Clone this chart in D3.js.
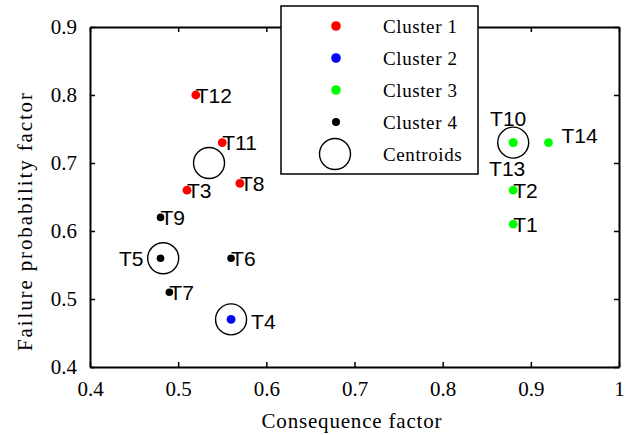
<!DOCTYPE html>
<html>
<head>
<meta charset="utf-8">
<script src="https://cdn.jsdelivr.net/npm/d3@7"></script>
<style>
  body { margin: 0; background: #fff; }
  svg { display: block; }
</style>
</head>
<body>
<svg id="chart"></svg>
<script>
// data
const names = ["T1", "T2", "T3", "T4", "T5", "T6", "T7", "T8", "T9", "T10", "T11", "T12", "T13", "T14"];
const consequence = [0.88, 0.88, 0.51, 0.56, 0.48, 0.56, 0.49, 0.57, 0.48, 0.88, 0.55, 0.52, 0.88, 0.92];
const probability = [0.61, 0.66, 0.66, 0.47, 0.56, 0.56, 0.51, 0.67, 0.62, 0.73, 0.73, 0.80, 0.73, 0.73];
const clusterOf = [3, 3, 1, 2, 4, 4, 4, 1, 4, 3, 1, 1, 3, 3];

const centroidX = [0.535, 0.56, 0.88, 0.483];
const centroidY = [0.70, 0.47, 0.73, 0.56];

const clusterNames = ["Cluster 1", "Cluster 2", "Cluster 3", "Cluster 4"];
const clusterColors = ["#ff0000", "#0000ff", "#00ff00", "#000000"];

const xTicks = [0.4, 0.5, 0.6, 0.7, 0.8, 0.9, 1.0];
const yTicks = [0.4, 0.5, 0.6, 0.7, 0.8, 0.9];

// where each label sits relative to its point (pixels)
const labelPlace = {
    T4: { dx: 20, dy: 2, anchor: "start" },
    T5: { dx: -17, dy: 0, anchor: "end" },
    T10: { dx: -5, dy: -24, anchor: "middle" },
    T13: { dx: -6, dy: 26, anchor: "middle" },
    T14: { dx: 13, dy: -7, anchor: "start" }
};

const width = 629, height = 435;
const margin = { top: 27, right: 10, bottom: 68, left: 90 };
const serif = "'Liberation Serif', 'Times New Roman', serif";
const sans = "'Liberation Sans', Arial, sans-serif";

const svg = d3.select("#chart")
    .attr("width", width)
    .attr("height", height);

const innerW = width - margin.left - margin.right;
const innerH = height - margin.top - margin.bottom;

const x = d3.scaleLinear().domain([0.4, 1.0]).range([0, innerW]);
const y = d3.scaleLinear().domain([0.4, 0.9]).range([innerH, 0]);

const g = svg.append("g")
    .attr("transform", `translate(${margin.left},${margin.top})`);

const fmt = d3.format("~g");

// axes, ticks pointing inwards, MATLAB box style
const xAxis = d3.axisBottom(x).tickValues(xTicks).tickFormat(fmt).tickSizeInner(-5).tickSizeOuter(0).tickPadding(14);
const yAxis = d3.axisLeft(y).tickValues(yTicks).tickFormat(fmt).tickSizeInner(-5).tickSizeOuter(0).tickPadding(13);
const xTop = d3.axisTop(x).tickValues(xTicks).tickFormat("").tickSizeInner(-5).tickSizeOuter(0);
const yRight = d3.axisRight(y).tickValues(yTicks).tickFormat("").tickSizeInner(-5).tickSizeOuter(0);

g.append("g").attr("class", "axis").attr("transform", `translate(0,${innerH})`).call(xAxis);
g.append("g").attr("class", "axis").call(yAxis);
g.append("g").attr("class", "axis").call(xTop);
g.append("g").attr("class", "axis").attr("transform", `translate(${innerW},0)`).call(yRight);

g.selectAll(".axis path").attr("stroke", "#000").attr("stroke-width", 2);
g.selectAll(".axis line").attr("stroke", "#000").attr("stroke-width", 1.5);
g.selectAll(".axis text")
    .attr("fill", "#000")
    .style("font-family", serif)
    .style("font-size", "21px");

// axis titles
svg.append("text")
    .attr("x", margin.left + innerW / 2 - 3)
    .attr("y", 428)
    .attr("text-anchor", "middle")
    .attr("textLength", 180)
    .attr("lengthAdjust", "spacing")
    .style("font-family", serif)
    .style("font-size", "21px")
    .text("Consequence factor");

svg.append("text")
    .attr("transform", `translate(32,${222}) rotate(-90)`)
    .attr("text-anchor", "middle")
    .attr("textLength", 258)
    .attr("lengthAdjust", "spacing")
    .style("font-family", serif)
    .style("font-size", "21px")
    .text("Failure probability factor");

// data points
const pts = names.map((n, i) => ({
    name: n,
    cx: consequence[i],
    cy: probability[i],
    c: clusterOf[i]
}));

g.selectAll(".pt")
    .data(pts)
    .join("circle")
    .attr("class", "pt")
    .attr("cx", d => x(d.cx))
    .attr("cy", d => y(d.cy))
    .attr("r", d => d.c === 4 ? 3.8 : 4.4)
    .attr("fill", d => clusterColors[d.c - 1]);

// centroids
g.selectAll(".centroid")
    .data(centroidX.map((v, i) => [v, centroidY[i]]))
    .join("circle")
    .attr("class", "centroid")
    .attr("cx", d => x(d[0]))
    .attr("cy", d => y(d[1]))
    .attr("r", 15.5)
    .attr("fill", "none")
    .attr("stroke", "#000")
    .attr("stroke-width", 1.4);

// point labels
g.selectAll(".lbl")
    .data(pts)
    .join("text")
    .attr("class", "lbl")
    .attr("x", d => x(d.cx) + (labelPlace[d.name] ? labelPlace[d.name].dx : 0))
    .attr("y", d => y(d.cy) + (labelPlace[d.name] ? labelPlace[d.name].dy : 0))
    .attr("dy", "0.37em")
    .attr("text-anchor", d => labelPlace[d.name] ? labelPlace[d.name].anchor : "start")
    .style("font-family", sans)
    .style("font-size", "21px")
    .text(d => d.name);

// legend
const legend = svg.append("g").attr("transform", "translate(281,6)");
legend.append("rect")
    .attr("width", 197)
    .attr("height", 168)
    .attr("fill", "#fff")
    .attr("stroke", "#000")
    .attr("stroke-width", 1.5);

const rowY = d3.scalePoint().domain(d3.range(5)).range([20, 148]);

legend.selectAll(".lg-dot")
    .data(clusterNames)
    .join("circle")
    .attr("cx", 55)
    .attr("cy", (d, i) => rowY(i))
    .attr("r", (d, i) => i === 3 ? 4 : 4.8)
    .attr("fill", (d, i) => clusterColors[i]);

legend.append("circle")
    .attr("cx", 54)
    .attr("cy", rowY(4))
    .attr("r", 15.5)
    .attr("fill", "none")
    .attr("stroke", "#000")
    .attr("stroke-width", 1.4);

legend.selectAll(".lg-text")
    .data(clusterNames.concat(["Centroids"]))
    .join("text")
    .attr("x", 102)
    .attr("y", (d, i) => rowY(i))
    .attr("dy", "0.35em")
    .style("font-family", serif)
    .style("font-size", "19px")
    .style("letter-spacing", "0.6px")
    .text(d => d);
</script>
</body>
</html>
